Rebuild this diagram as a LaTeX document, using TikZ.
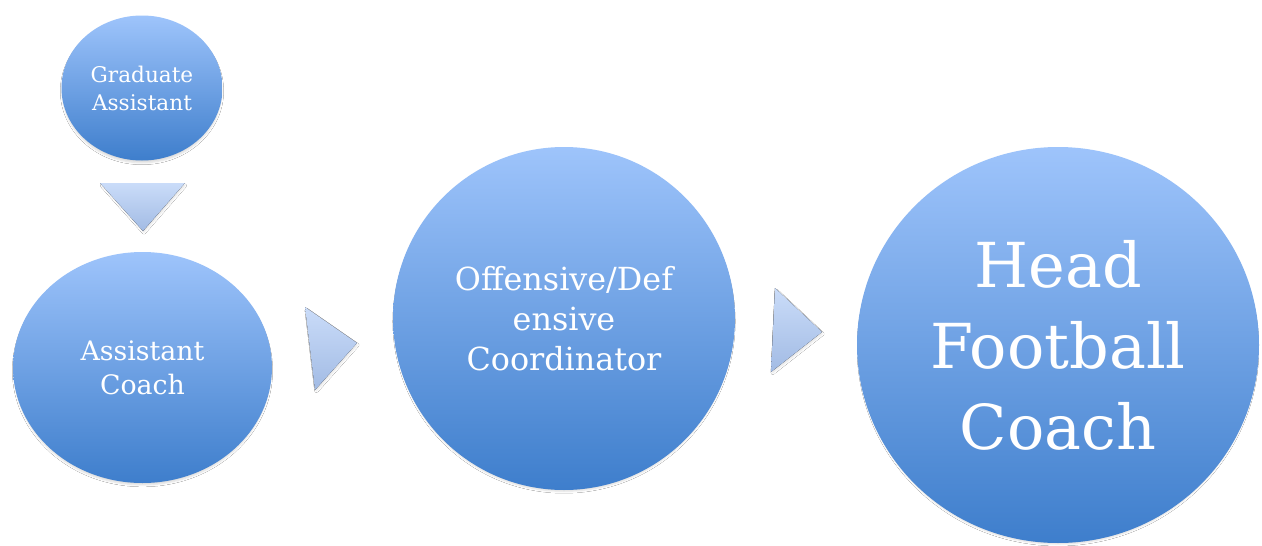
\documentclass[tikz,border=0pt]{standalone}
\usepackage{fontspec}
\setmainfont{DejaVu Serif}
\usetikzlibrary{shapes.geometric,shadows.blur}
\definecolor{ctop}{HTML}{9EC4FB}
\definecolor{cbot}{HTML}{3E7ECC}
\definecolor{ttop}{HTML}{CADCF9}
\definecolor{tbot}{HTML}{A2BBE4}
\tikzset{
  bubble/.style={ellipse, inner sep=0pt, text=white, align=center,
    top color=ctop, bottom color=cbot, draw=none,
    blur shadow={shadow xshift=0pt, shadow yshift=-3pt, shadow blur radius=2pt, shadow opacity=15, shadow scale=0.99}},
  chevron/.style={top color=ttop, bottom color=tbot, draw=none,
    blur shadow={shadow xshift=1pt, shadow yshift=-2pt, shadow blur radius=2pt, shadow opacity=12, shadow scale=0.97}}
}
\begin{document}
\begin{tikzpicture}[x=1pt,y=-1pt]
\useasboundingbox[fill=white] (0,0) rectangle (1262,546);
\node[bubble, minimum width=161pt, minimum height=145pt,
  font={\fontsize{21.6}{28}\selectfont}] (ga) at (142,88) {Graduate\\Assistant};
\node[bubble, minimum width=259pt, minimum height=231pt,
  font={\fontsize{26.8}{34}\selectfont}] (ac) at (142.5,367.5) {Assistant\\Coach};
\node[bubble, minimum width=342pt, minimum height=343pt,
  font={\fontsize{31.8}{40}\selectfont}] (oc) at (564,318.5) {Offensive/Def\\ensive\\Coordinator};
\node[bubble, minimum width=402pt, minimum height=396pt,
  font={\fontsize{62}{81}\selectfont}] (hc) at (1058,345) {Head\\Football\\Coach};
% chevrons
\fill[chevron] (100,183) -- (185,183) -- (143,231) -- cycle;
\fill[chevron] (305,307) -- (357,343) -- (315,390) -- cycle;
\fill[chevron] (775,288) -- (822,332) -- (771,372) -- cycle;
\end{tikzpicture}
\end{document}
